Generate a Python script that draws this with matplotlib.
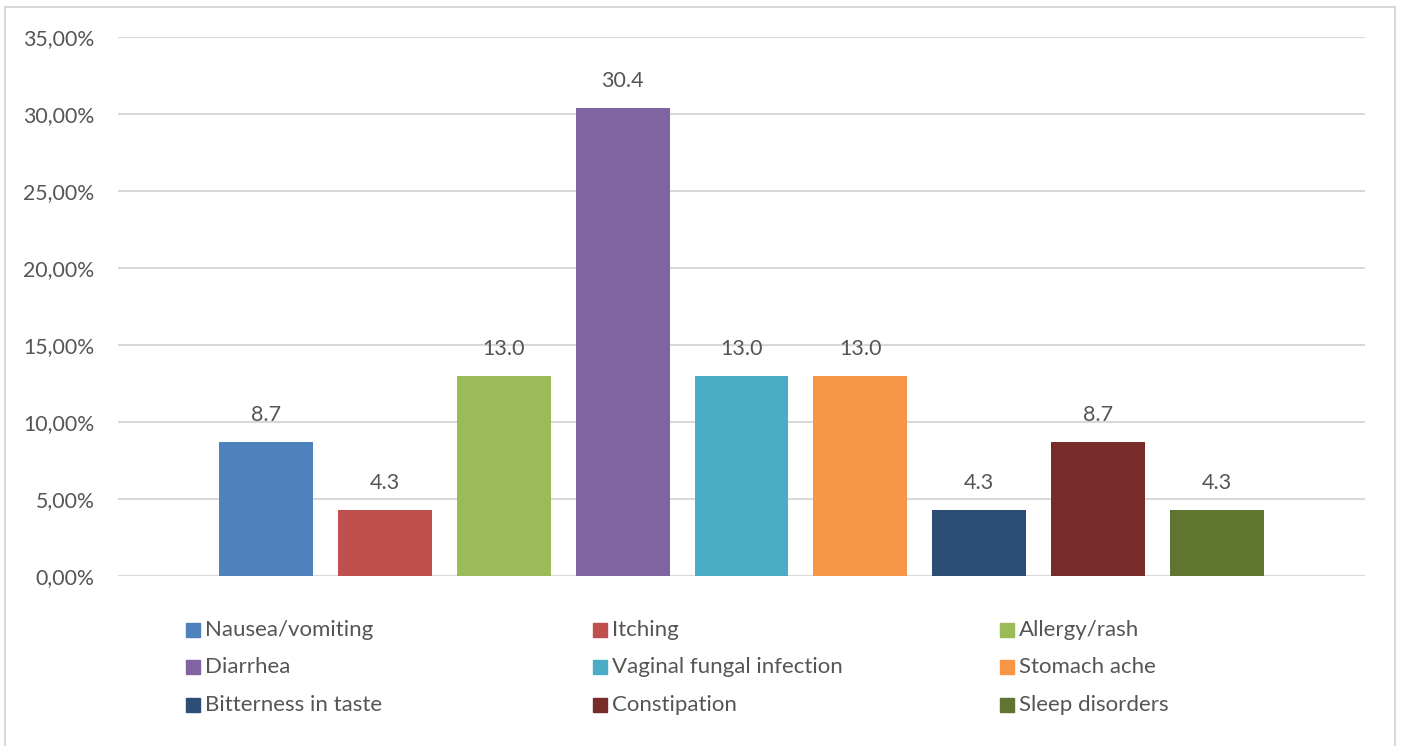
import matplotlib
matplotlib.use("Agg")
import matplotlib.pyplot as plt
from matplotlib.patches import Rectangle

# side effects, share of patients (%)
effects = ["Nausea/vomiting", "Itching", "Allergy/rash", "Diarrhea",
           "Vaginal fungal infection", "Stomach ache", "Bitterness in taste",
           "Constipation", "Sleep disorders"]
shares = [8.7, 4.3, 13.0, 30.4, 13.0, 13.0, 4.3, 8.7, 4.3]
colors = ["#4F81BD", "#C0504D", "#9BBB59", "#8064A2", "#4BACC6",
          "#F79646", "#2C4D75", "#772C2A", "#5F7530"]
yticks = [0, 5, 10, 15, 20, 25, 30, 35]

plt.rcParams['font.family'] = ['Lato', 'DejaVu Sans']
txt = "#555555"
grid = "#d9d9d9"

W, H = 1402, 746
fig = plt.figure(figsize=(W / 100, H / 100), dpi=100)
ax = fig.add_axes([118 / W, 1 - 576 / H, 1247 / W, 539 / H])

x = list(range(len(shares)))
ax.bar(x, shares, width=0.79, color=colors, zorder=3)
for xi, v in zip(x, shares):
    ax.annotate(f"{v:.1f}", (xi, v), xytext=(0, 19.5), textcoords="offset points",
                ha="center", va="center", fontsize=15.5, color=txt)

ax.set_xlim(-1.244, len(shares) - 1 + 1.244)
ax.set_ylim(0, 35)
ax.set_yticks(yticks)
ax.set_yticklabels([f"{t:.2f}".replace(".", ",") + "%" for t in yticks],
                   fontsize=15.3, color=txt)
ax.set_xticks([])
ax.tick_params(axis="y", length=0, pad=17)
ax.yaxis.grid(True, color=grid, linewidth=1.5, zorder=0)
for s in ax.spines.values():
    s.set_visible(False)

# legend, three columns filled row by row
col_x = [186, 593, 1000]
row_y = [630, 667, 705]
for i, (name, c) in enumerate(zip(effects, colors)):
    cx = col_x[i % 3]
    cy = row_y[i // 3]
    fig.patches.append(Rectangle((cx / W, 1 - (cy + 7) / H), 14 / W, 14 / H,
                                 transform=fig.transFigure, color=c))
    fig.text((cx + 19) / W, 1 - cy / H, name, fontsize=16, color=txt,
             va="center", ha="left")

# chart frame
fig.patches.append(Rectangle((5 / W, -0.05), 1390 / W, 1 - 7 / H + 0.05,
                             transform=fig.transFigure, fill=False,
                             edgecolor=grid, linewidth=1.5))

fig.savefig("out.png", dpi=100)
